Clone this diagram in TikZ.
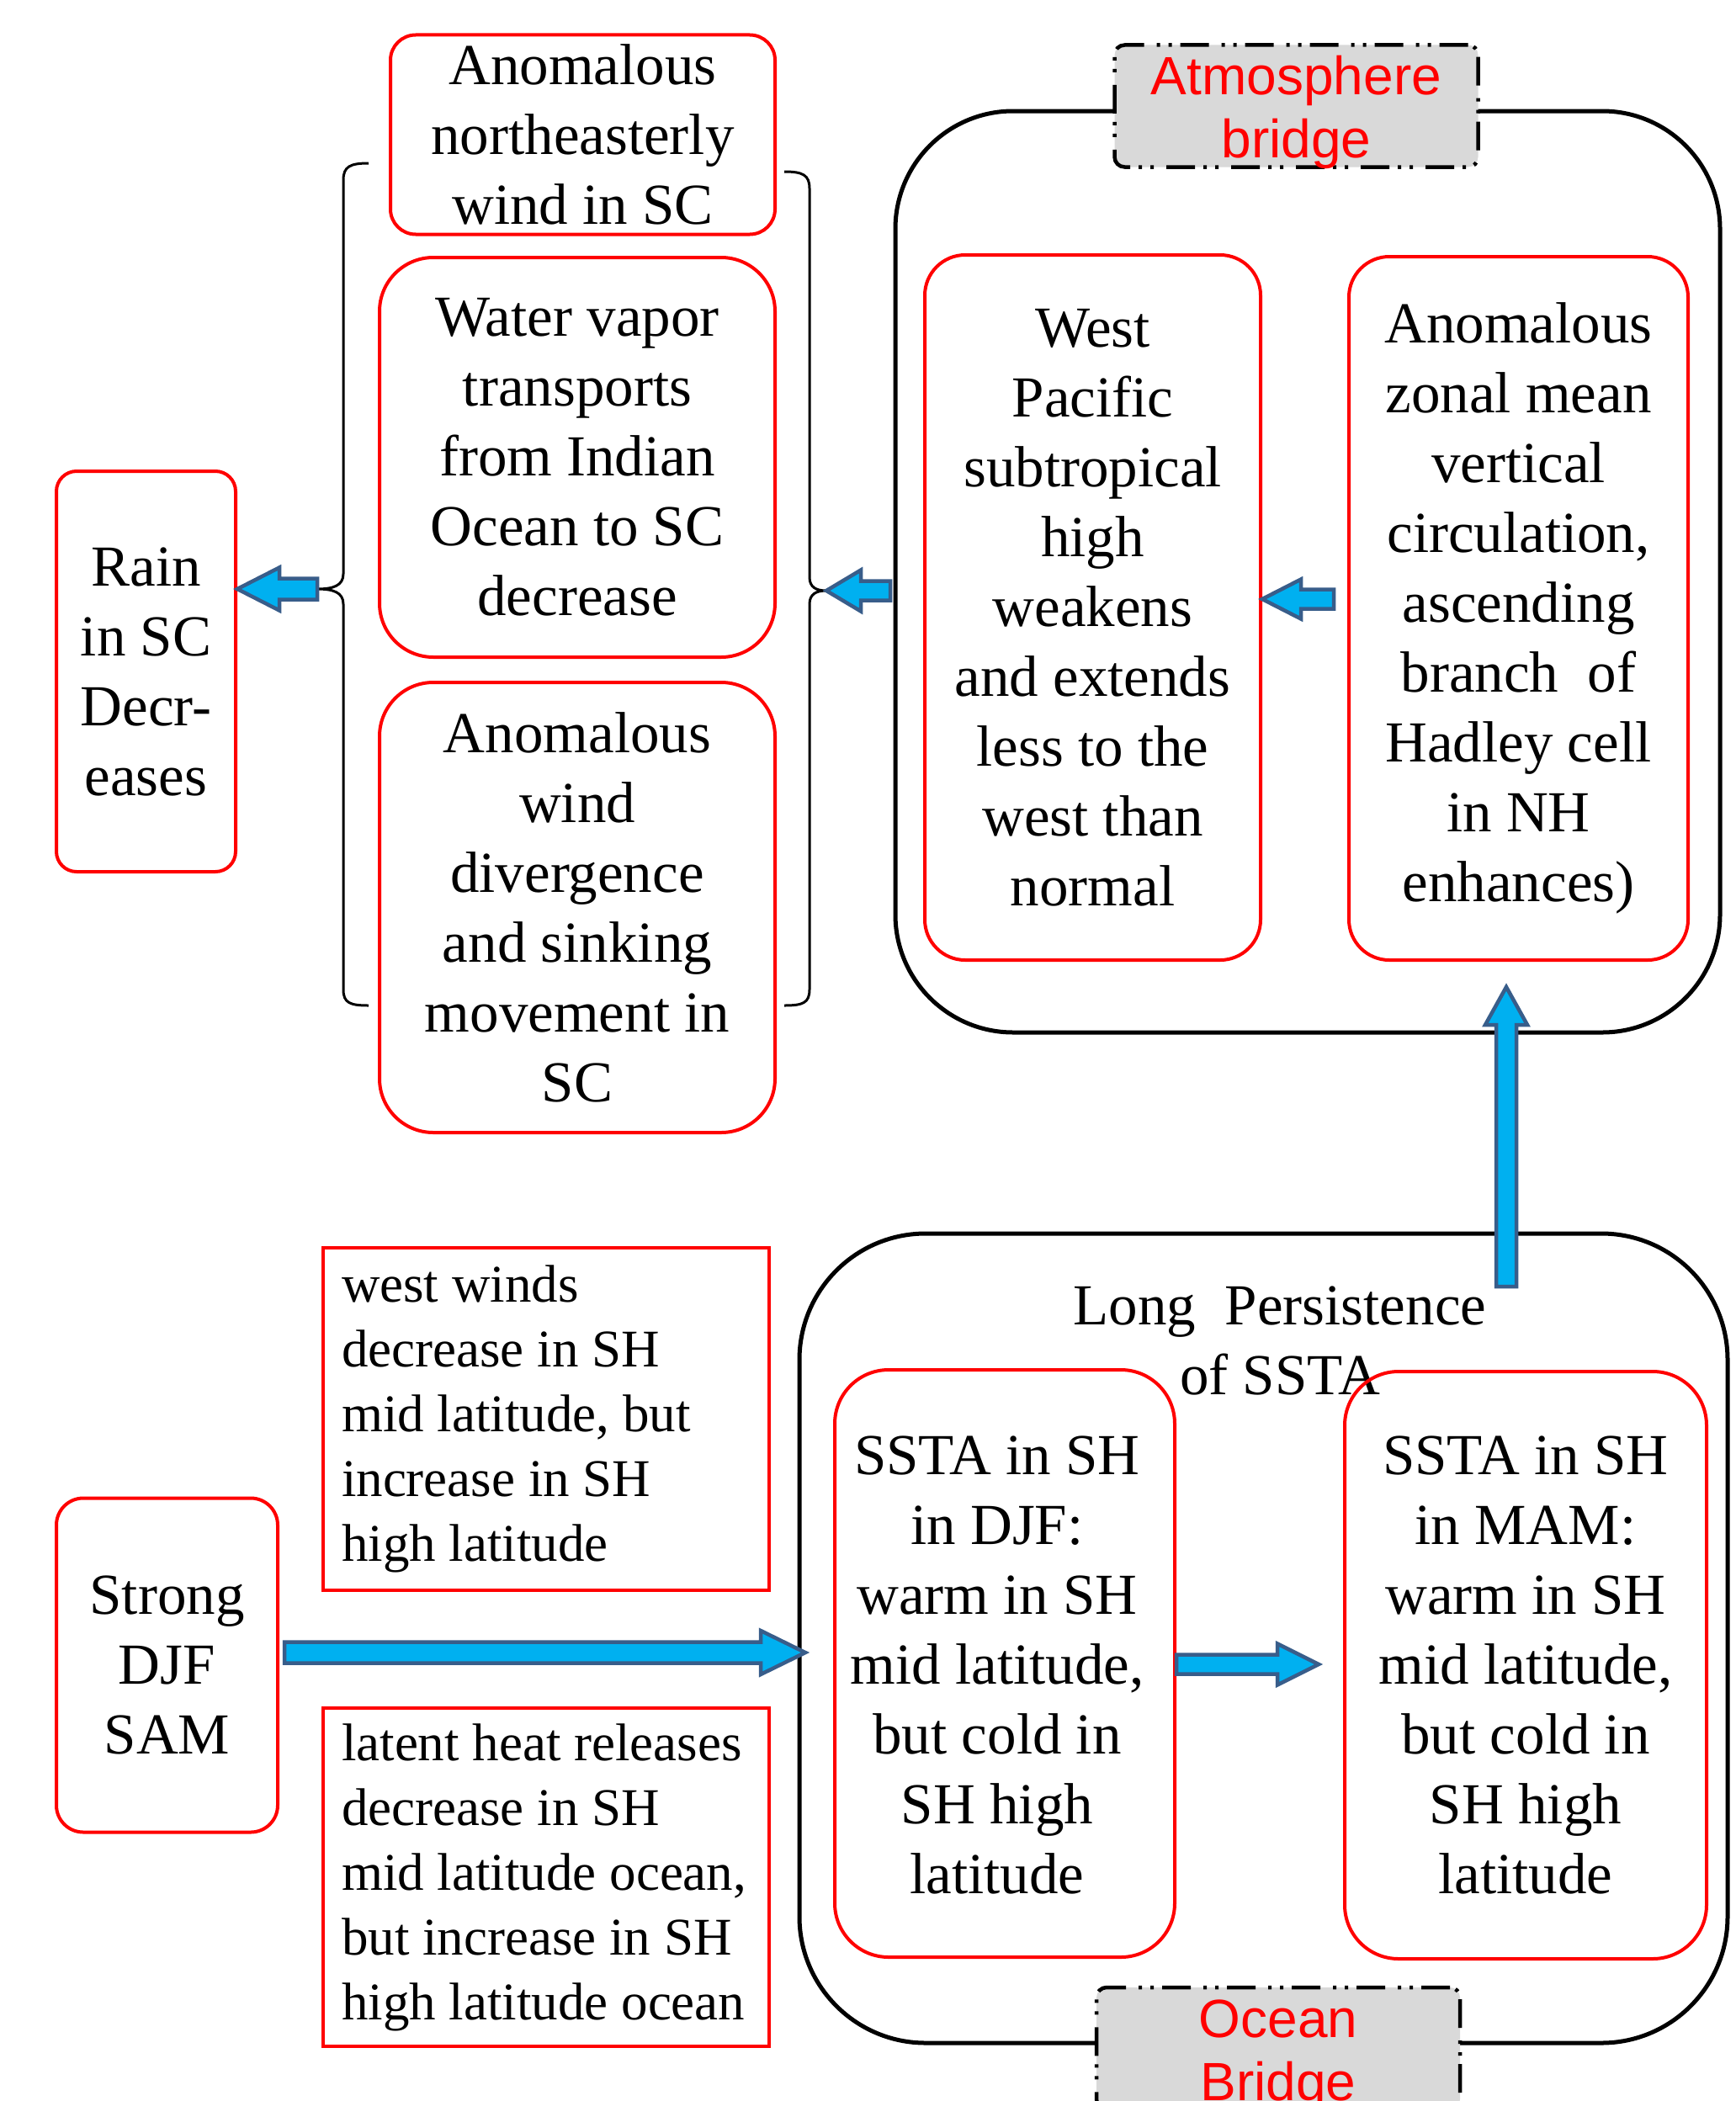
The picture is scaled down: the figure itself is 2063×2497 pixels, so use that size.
\documentclass[tikz,border=0pt]{standalone}
\usepackage{fontspec}
\setmainfont{Liberation Serif}
\newfontfamily\arialf{Liberation Sans}
\usetikzlibrary{calc}
\definecolor{afill}{RGB}{0,176,240}
\definecolor{aedge}{RGB}{56,93,138}
\definecolor{lgray}{RGB}{217,217,217}
\newcommand\bigtxt{\fontsize{69}{83}\selectfont}
\newcommand\smalltxt{\fontsize{63}{77}\selectfont}
\newcommand\labeltxt{\arialf\fontsize{64}{75}\selectfont}
\newcommand\fullline[1]{\makebox[486pt][l]{#1}}
% #1 tip, #2 tail, #3 dx, #4 dy (unit vector tip->tail), #5 shaft half, #6 head half, #7 head length
\newcommand\barr[7]{%
  \draw[barrow] (#1)
    -- ($(#1)+({(#7)*(#3)-(#6)*(#4)},{(#7)*(#4)+(#6)*(#3)})$)
    -- ($(#1)+({(#7)*(#3)-(#5)*(#4)},{(#7)*(#4)+(#5)*(#3)})$)
    -- ($(#2)+({-(#5)*(#4)},{(#5)*(#3)})$)
    -- ($(#2)+({(#5)*(#4)},{-(#5)*(#3)})$)
    -- ($(#1)+({(#7)*(#3)+(#5)*(#4)},{(#7)*(#4)-(#5)*(#3)})$)
    -- ($(#1)+({(#7)*(#3)+(#6)*(#4)},{(#7)*(#4)-(#6)*(#3)})$)
    -- cycle;}
\begin{document}
\begin{tikzpicture}[x=1pt,y=-1pt,
  rbox/.style={draw=red, line width=4pt, align=center, font=\bigtxt, inner sep=0pt},
  sbox/.style={draw=red, line width=4pt, align=left, font=\smalltxt, inner sep=0pt},
  bigbox/.style={draw=black, line width=5pt, inner sep=0pt},
  bridge/.style={draw=black, fill=lgray, line width=4.5pt, rounded corners=12pt,
     dash pattern=on 34pt off 10pt on 4pt off 10pt on 4pt off 15pt,
     text=red, font=\labeltxt, align=center, inner sep=0pt,
     minimum width=432pt, minimum height=145pt, text height=130pt, text depth=7pt},
  brace/.style={draw=black, line width=3pt},
  barrow/.style={draw=aedge, fill=afill, line width=4.5pt, line join=miter}]
\useasboundingbox (0,0) rectangle (2063,2497);
\clip (0,0) rectangle (2063,2497);
\fill[white] (0,0) rectangle (2063,2497);

% big frames
\node[bigbox, rounded corners=140pt, minimum width=980pt, minimum height=1095pt] (atm) at (1554,679.5) {};
\node[bigbox, rounded corners=150pt, minimum width=1103pt, minimum height=962pt] (ocn) at (1501.5,1947) {};

% bridge labels
\node[bridge] (atmlab) at (1540.5,126) {Atmosphere\\bridge};
\node[bridge] (ocnlab) at (1519,2434.5) {Ocean\\Bridge};

% upper-left boxes
\node[rbox, rounded corners=30pt, minimum width=457pt, minimum height=237pt] (ne) at (692.5,160)
  {Anomalous\\northeasterly\\wind in SC};
\node[rbox, rounded corners=64pt, minimum width=470pt, minimum height=475pt] (wv) at (686,543.5)
  {Water vapor\\transports\\from Indian\\Ocean to SC\\decrease};
\node[rbox, rounded corners=64pt, minimum width=470pt, minimum height=535pt] (dv) at (686,1078.5)
  {Anomalous\\wind\\divergence\\and sinking\\movement in\\SC};
\node[rbox, rounded corners=24pt, minimum width=213pt, minimum height=476pt] (rain) at (173.5,798)
  {Rain\\in SC\\Decr-\\eases};

% atmosphere boxes
\node[rbox, rounded corners=48pt, minimum width=399pt, minimum height=838pt] (wp) at (1298.5,722)
  {West\\Pacific\\subtropical\\high\\weakens\\and extends\\less to the\\west than\\normal};
\node[rbox, rounded corners=48pt, minimum width=403pt, minimum height=836pt] (zm) at (1804.5,723)
  {Anomalous\\zonal mean\\vertical\\circulation,\\ascending\\branch\ \ of\\Hadley cell\\in NH\\enhances)};

% ocean part
\node[font=\bigtxt, align=center, inner sep=0pt] (lp) at (1521,1593) {Long\ \ Persistence\\of SSTA};
\node[draw=red, line width=4pt, rounded corners=64pt, minimum width=404pt, minimum height=698pt] (djf) at (1194,1977) {};
\node[font=\bigtxt, align=center, inner sep=0pt] (djftxt) at ($(djf.center)+(-9,2)$)
  {SSTA in SH\\in DJF:\\warm in SH\\mid latitude,\\but cold in\\SH high\\latitude};
\node[rbox, rounded corners=64pt, minimum width=430pt, minimum height=698pt] (mam) at (1813,1979)
  {SSTA in SH\\in MAM:\\warm in SH\\mid latitude,\\but cold in\\SH high\\latitude};

% lower-left
\node[rbox, rounded corners=32pt, minimum width=263pt, minimum height=397pt] (sam) at (198.5,1979)
  {Strong\\DJF\\SAM};
\node[sbox, minimum width=530pt, minimum height=407pt] (ww) at (649,1686)
  {\fullline{west winds}\\decrease in SH\\mid latitude, but\\increase in SH\\high latitude};
\node[sbox, minimum width=530pt, minimum height=402pt] (lh) at (649,2231)
  {\fullline{latent heat releases}\\decrease in SH\\mid latitude ocean,\\but increase in SH\\high latitude ocean};

% braces
\coordinate (lbtip) at (377,700);
\coordinate (rbtip) at (982,702);
\draw[brace] (438,194) .. controls (416,194) and (408,198) .. (408,214) -- (408,682)
  .. controls (408,696) and (396,700) .. (lbtip)
  .. controls (396,700) and (408,704) .. (408,718) -- (408,1176)
  .. controls (408,1192) and (416,1195) .. (438,1195);
\draw[brace] (932,204) .. controls (954,204) and (962,208) .. (962,224) -- (962,686)
  .. controls (962,698) and (970,702) .. (rbtip)
  .. controls (970,702) and (962,706) .. (962,718) -- (962,1176)
  .. controls (962,1192) and (954,1195) .. (932,1195);

% arrow end points
\coordinate (a1tip) at (rain.east |- lbtip);
\coordinate (a2tail) at (1058,702);
\coordinate (a3tip) at (wp.east |- 0,712);
\coordinate (a3tail) at (1585,712);
\coordinate (a4tail) at (djf.east |- 0,1978);
\coordinate (a4tip) at (1567,1978);
\coordinate (a5tail) at (338,1964);
\coordinate (a5tip) at (957,1964);
\coordinate (a6tip) at (1790,1173);
\coordinate (a6tail) at (1790,1529);

% block arrows
\barr{a1tip}{lbtip}{1}{0}{12.5}{25.5}{50}
\barr{rbtip}{a2tail}{1}{0}{11.5}{24.5}{41}
\barr{a3tip}{a3tail}{1}{0}{11.5}{23.5}{46}
\barr{a4tip}{a4tail}{-1}{0}{11.5}{24.5}{49}
\barr{a5tip}{a5tail}{-1}{0}{12.5}{26}{53}
\barr{a6tip}{a6tail}{0}{1}{12}{25}{45}
\end{tikzpicture}
\end{document}
